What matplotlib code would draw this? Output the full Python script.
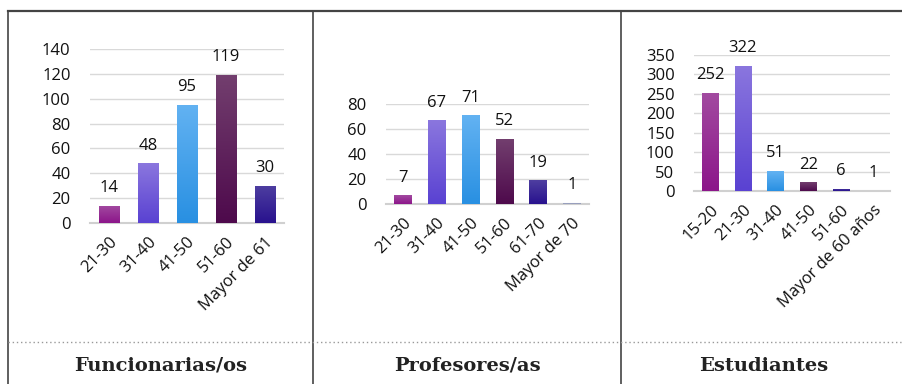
import numpy as np
import matplotlib
matplotlib.use('Agg')
import matplotlib.pyplot as plt
from matplotlib.colors import LinearSegmentedColormap

# datos de cada grupo
func_cats = ['21-30', '31-40', '41-50', '51-60', 'Mayor de 61']
func_vals = [14, 48, 95, 119, 30]

prof_cats = ['21-30', '31-40', '41-50', '51-60', '61-70', 'Mayor de 70']
prof_vals = [7, 67, 71, 52, 19, 1]

est_cats = ['15-20', '21-30', '31-40', '41-50', '51-60', 'Mayor de 60 años']
est_vals = [252, 322, 51, 22, 6, 1]

titles = ['Funcionarias/os', 'Profesores/as', 'Estudiantes']

# colores (arriba, abajo) de cada barra
bar_colors = [('#a24aa0', '#8c168a'),
              ('#8a76de', '#5a42d2'),
              ('#62b2f2', '#2990e2'),
              ('#723e6e', '#4e0a4c'),
              ('#4e3ea0', '#28128e'),
              ('#b0b4cc', '#9098b8')]

W, H = 903, 384
fig = plt.figure(figsize=(W / 100, H / 100), dpi=100)
plt.rcParams['font.family'] = ['Open Sans', 'DejaVu Sans']
fs = 12


def px_axes(x0, x1, ytop, y0):
    return fig.add_axes([x0 / W, (H - y0) / H, (x1 - x0) / W, (y0 - ytop) / H])


def draw_chart(ax, cats, vals, ymax, step):
    x = np.arange(len(cats))
    bars = ax.bar(x, vals, width=0.52, color='none', zorder=3)
    for i, b in enumerate(bars):
        top, bot = bar_colors[i]
        cmap = LinearSegmentedColormap.from_list('g', [bot, top])
        grad = np.linspace(0, 1, 50).reshape(-1, 1)
        im = ax.imshow(grad, cmap=cmap, origin='lower', aspect='auto', zorder=3,
                       extent=[b.get_x(), b.get_x() + b.get_width(), 0, b.get_height()])
        im.set_clip_path(b)
        ax.annotate(str(vals[i]), (b.get_x() + b.get_width() / 2, b.get_height()),
                    xytext=(0, 7), textcoords='offset points', ha='center', va='bottom',
                    fontsize=fs, color='#111111', annotation_clip=False)
    ax.set_xlim(-0.5, len(cats) - 0.5)
    ax.set_ylim(0, ymax)
    ax.set_yticks(np.arange(0, ymax + 1, step))
    ax.set_xticks(x)
    ax.set_xticklabels(cats, rotation=45, ha='right', rotation_mode='anchor')
    ax.tick_params(axis='both', length=0, labelsize=fs, colors='#111111')
    ax.tick_params(axis='x', pad=8)
    ax.tick_params(axis='y', pad=14)
    ax.grid(axis='y', color='#d9d9d9', lw=1, zorder=0)
    for s in ['top', 'right', 'left']:
        ax.spines[s].set_visible(False)
    ax.spines['bottom'].set_color('#d0d0d0')
    ax.spines['bottom'].set_linewidth(1.5)
    ax.set_facecolor('none')


ax1 = px_axes(90, 284, 49, 223)
draw_chart(ax1, func_cats, func_vals, 140, 20)
ax2 = px_axes(386, 589, 104, 204)
draw_chart(ax2, prof_cats, prof_vals, 80, 20)
ax3 = px_axes(694, 890, 55, 191)
draw_chart(ax3, est_cats, est_vals, 350, 50)

# bordes de la tabla
line_color = '#444444'
fig.add_artist(plt.Line2D([8 / W, 1], [1 - 11 / H] * 2, color=line_color, lw=1.6))
for xv in [8, 313, 621]:
    fig.add_artist(plt.Line2D([xv / W] * 2, [0, 1 - 11 / H], color=line_color, lw=1.2))
fig.add_artist(plt.Line2D([8 / W, 1], [1 - 342 / H] * 2, color='#999999', lw=1,
                          linestyle=(0, (1, 2))))

# titulos de abajo
for cx, t in zip([161, 467, 764], titles):
    fig.text(cx / W, 1 - 366 / H, t, ha='center', va='center', fontsize=14,
             fontweight='bold', family='DejaVu Serif', color='#222222')

fig.savefig('out.png', dpi=100)
